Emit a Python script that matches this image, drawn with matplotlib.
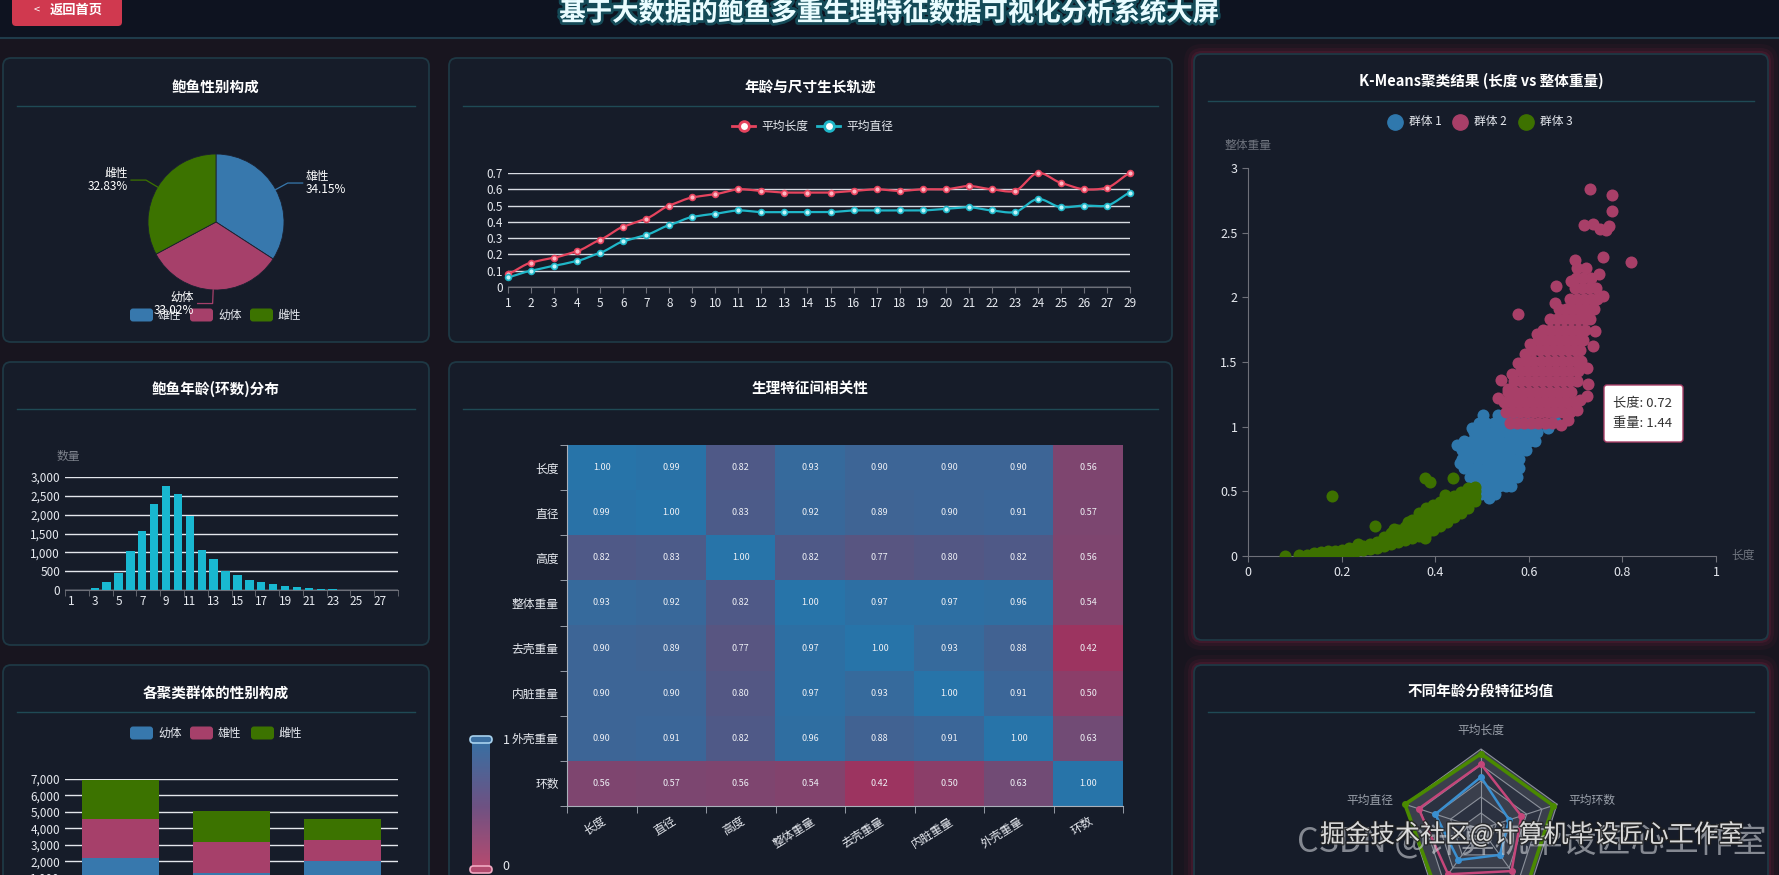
import numpy as np
import matplotlib
matplotlib.use("Agg")
import matplotlib.pyplot as plt
import matplotlib.patheffects as pe
from matplotlib.patches import FancyBboxPatch, Polygon
from matplotlib.colors import LinearSegmentedColormap

plt.rcParams['font.family'] = ['Noto Sans CJK SC', 'DejaVu Sans']

W, H = 1779, 875

# ---------------- 数据 ----------------
sex_names = ['雄性', '幼体', '雌性']
sex_pct = [34.15, 33.02, 32.83]

ages = [1, 2, 3, 4, 5, 6, 7, 8, 9, 10, 11, 12, 13, 14, 15, 16, 17, 18, 19, 20,
        21, 22, 23, 24, 25, 26, 27, 29]
avg_length = [0.08, 0.15, 0.18, 0.22, 0.29, 0.37, 0.42, 0.50, 0.55, 0.57, 0.60, 0.59,
              0.58, 0.58, 0.58, 0.59, 0.60, 0.59, 0.60, 0.60, 0.62, 0.60, 0.59, 0.70,
              0.64, 0.60, 0.61, 0.70]
avg_diameter = [0.06, 0.10, 0.13, 0.16, 0.21, 0.28, 0.32, 0.38, 0.43, 0.45, 0.47, 0.46,
                0.46, 0.46, 0.46, 0.47, 0.47, 0.47, 0.47, 0.48, 0.49, 0.47, 0.46, 0.54,
                0.49, 0.50, 0.50, 0.58]
ring_count = [0, 3, 50, 220, 460, 1030, 1560, 2270, 2760, 2540, 1960, 1060, 810, 500,
              400, 256, 220, 160, 115, 90, 45, 18, 25, 6, 4, 3, 2, 2]

cluster_names = ['群体 1', '群体 2', '群体 3']
stack_names = ['幼体', '雄性', '雌性']
stack_infant = [2170, 1290, 2000]
stack_male = [2420, 1880, 1275]
stack_female = [2370, 1860, 1315]

features = ['长度', '直径', '高度', '整体重量', '去壳重量', '内脏重量', '外壳重量', '环数']
corr = [
    [1.00, 0.99, 0.82, 0.93, 0.90, 0.90, 0.90, 0.56],
    [0.99, 1.00, 0.83, 0.92, 0.89, 0.90, 0.91, 0.57],
    [0.82, 0.83, 1.00, 0.82, 0.77, 0.80, 0.82, 0.56],
    [0.93, 0.92, 0.82, 1.00, 0.97, 0.97, 0.96, 0.54],
    [0.90, 0.89, 0.77, 0.97, 1.00, 0.93, 0.88, 0.42],
    [0.90, 0.90, 0.80, 0.97, 0.93, 1.00, 0.91, 0.50],
    [0.90, 0.91, 0.82, 0.96, 0.88, 0.91, 1.00, 0.63],
    [0.56, 0.57, 0.56, 0.54, 0.42, 0.50, 0.63, 1.00],
]

# K-Means 散点 (长度, 整体重量) —— 按行读取：重量 -> 长度列表
blue_rows = {
    0.48: [0.497, 0.512, 0.528],
    0.54: [0.492, 0.506, 0.521, 0.537, 0.552, 0.563],
    0.61: [0.474, 0.488, 0.503, 0.519, 0.534, 0.548, 0.562, 0.574],
    0.68: [0.462, 0.477, 0.492, 0.508, 0.523, 0.538, 0.553, 0.568, 0.579],
    0.75: [0.458, 0.473, 0.489, 0.504, 0.519, 0.534, 0.550, 0.565, 0.580],
    0.82: [0.457, 0.472, 0.487, 0.502, 0.518, 0.533, 0.548, 0.563, 0.578, 0.593],
    0.89: [0.462, 0.478, 0.494, 0.509, 0.524, 0.539, 0.555, 0.570, 0.585, 0.600, 0.614],
    0.96: [0.482, 0.497, 0.512, 0.527, 0.542, 0.558, 0.573, 0.588, 0.603, 0.617],
    1.03: [0.494, 0.509, 0.525, 0.540, 0.556, 0.571, 0.587, 0.602],
    1.09: [0.503, 0.534, 0.549, 0.565],
}
blue_extra = [(0.577, 1.24), (0.655, 1.04), (0.640, 0.99), (0.447, 0.86), (0.478, 0.99),
              (0.452, 0.72), (0.596, 0.90), (0.607, 0.93), (0.515, 0.45), (0.470, 0.79)]

pink_rows = {
    1.03: [0.560, 0.575, 0.590, 0.605, 0.620, 0.635, 0.650],
    1.11: [0.552, 0.567, 0.582, 0.597, 0.612, 0.627, 0.642, 0.657, 0.672, 0.688],
    1.19: [0.546, 0.561, 0.576, 0.591, 0.606, 0.621, 0.636, 0.651, 0.666, 0.681, 0.698],
    1.27: [0.556, 0.571, 0.586, 0.601, 0.616, 0.631, 0.646, 0.661, 0.676, 0.691],
    1.35: [0.569, 0.584, 0.599, 0.614, 0.629, 0.644, 0.659, 0.674, 0.689, 0.702],
    1.43: [0.583, 0.598, 0.613, 0.628, 0.643, 0.658, 0.673, 0.688, 0.705],
    1.51: [0.595, 0.610, 0.625, 0.640, 0.655, 0.670, 0.685, 0.700, 0.711],
    1.59: [0.608, 0.623, 0.638, 0.653, 0.668, 0.683, 0.698, 0.710],
    1.67: [0.620, 0.635, 0.650, 0.665, 0.680, 0.695, 0.710, 0.716],
    1.75: [0.631, 0.646, 0.661, 0.676, 0.691, 0.706, 0.721],
    1.83: [0.646, 0.661, 0.676, 0.691, 0.706, 0.721, 0.731],
    1.91: [0.664, 0.679, 0.694, 0.709, 0.724, 0.739],
    1.99: [0.688, 0.703, 0.718, 0.733, 0.745],
    2.07: [0.698, 0.713, 0.728, 0.743],
    2.15: [0.700, 0.716, 0.732],
    2.23: [0.704, 0.722],
}
pink_extra = [(0.730, 2.84), (0.778, 2.79), (0.778, 2.67), (0.719, 2.56), (0.738, 2.57),
              (0.752, 2.53), (0.766, 2.52), (0.772, 2.55), (0.819, 2.27), (0.698, 2.29),
              (0.758, 2.31), (0.749, 2.18), (0.659, 2.09), (0.577, 1.87), (0.758, 2.01),
              (0.741, 1.74), (0.724, 1.45), (0.724, 1.24), (0.726, 1.33), (0.704, 1.13),
              (0.683, 1.05), (0.541, 1.36), (0.577, 1.49), (0.535, 1.22), (0.556, 1.29),
              (0.668, 1.01), (0.592, 1.56), (0.603, 1.64), (0.655, 1.96), (0.737, 1.62),
              (0.716, 1.88), (0.690, 2.13), (0.618, 1.72), (0.710, 1.21), (0.565, 1.41)]

# 绿色群体按列读取：长度 -> 重量列表
green_cols = {
    0.080: [0.000], 0.110: [0.006], 0.125: [0.008], 0.140: [0.010, 0.025],
    0.155: [0.012, 0.030], 0.170: [0.015, 0.035], 0.185: [0.020, 0.042],
    0.200: [0.025, 0.050], 0.215: [0.030, 0.058], 0.230: [0.036, 0.068],
    0.245: [0.045, 0.080], 0.260: [0.055, 0.095], 0.275: [0.065, 0.110],
    0.290: [0.080, 0.125, 0.150], 0.305: [0.095, 0.140, 0.175],
    0.320: [0.110, 0.155, 0.200], 0.335: [0.125, 0.175, 0.225],
    0.350: [0.140, 0.190, 0.240, 0.280], 0.365: [0.155, 0.205, 0.255, 0.305, 0.335],
    0.380: [0.175, 0.225, 0.275, 0.325, 0.370], 0.395: [0.200, 0.245, 0.295, 0.345, 0.395],
    0.410: [0.230, 0.275, 0.320, 0.370, 0.415], 0.425: [0.265, 0.305, 0.350, 0.395, 0.440],
    0.440: [0.300, 0.340, 0.380, 0.420, 0.465], 0.455: [0.335, 0.375, 0.415, 0.455, 0.495],
    0.470: [0.375, 0.415, 0.455, 0.495, 0.525], 0.485: [0.425, 0.465, 0.505, 0.530],
}
green_extra = [(0.180, 0.465), (0.378, 0.600), (0.388, 0.570), (0.438, 0.600),
               (0.272, 0.230), (0.378, 0.140), (0.342, 0.262), (0.312, 0.205),
               (0.420, 0.475), (0.236, 0.095)]

radar_names = ['平均长度', '平均直径', '平均高度', '平均重量', '平均环数']
radar_young = [0.65, 0.60, 0.48, 0.40, 0.37]
radar_adult = [0.81, 0.82, 0.70, 0.65, 0.53]
radar_old = [0.94, 1.00, 0.95, 0.95, 0.95]

BLUE, PINK, GREEN = '#3778ad', '#a6406a', '#3c7300'
TXT = '#e6e9ef'

# ---------------- 画布 ----------------
fig = plt.figure(figsize=(W / 100, H / 100), dpi=100, facecolor='#18151f')
bg = fig.add_axes([0, 0, 1, 1], zorder=0)
bg.set_xlim(0, W); bg.set_ylim(H, 0); bg.axis('off')
fg = fig.add_axes([0, 0, 1, 1], zorder=20)
fg.set_xlim(0, W); fg.set_ylim(H, 0); fg.axis('off'); fg.patch.set_alpha(0)


def px_axes(x0, y0, x1, y1, z=5):
    ax = fig.add_axes([x0 / W, 1 - y1 / H, (x1 - x0) / W, (y1 - y0) / H], zorder=z)
    ax.patch.set_alpha(0)
    return ax


def panel(x0, y0, x1, y1, title, ty, sy, glow=False):
    if glow:
        for k, a in [(10, 0.10), (6, 0.18), (3, 0.30)]:
            bg.add_patch(FancyBboxPatch((x0 - k, y0 - k), x1 - x0 + 2 * k, y1 - y0 + 2 * k,
                                        boxstyle=f'round,pad=0,rounding_size={8 + k}',
                                        fc='#6a1f3c', ec='none', alpha=a))
    bg.add_patch(FancyBboxPatch((x0, y0), x1 - x0, y1 - y0,
                                boxstyle='round,pad=0,rounding_size=8',
                                fc='#161c29', ec='#1e3844', lw=1.3))
    bg.text((x0 + x1) / 2, ty, title, color='white', fontsize=10.5, fontweight='bold',
            ha='center', va='center')
    bg.plot([x0 + 14, x1 - 14], [sy, sy], color='#1f4a55', lw=1)


def legend_box(x, y, color, label):
    bg.add_patch(FancyBboxPatch((x, y - 6.5), 23, 13, boxstyle='round,pad=0,rounding_size=3',
                                fc=color, ec='none'))
    bg.text(x + 28, y, label, color=TXT, fontsize=8.5, va='center', ha='left')


def style_axis(ax):
    for s in ['top', 'right', 'left']:
        ax.spines[s].set_visible(False)
    ax.spines['bottom'].set_color('#6e7079')
    ax.tick_params(colors=TXT, labelsize=8.5)
    ax.tick_params(axis='y', length=0)
    ax.tick_params(axis='x', color='#6e7079', length=4)


# 背景 / 标题
bg.add_patch(plt.Rectangle((0, 0), W, 38, fc='#0e1320', ec='none'))
bg.plot([0, W], [38, 38], color='#1f3b4a', lw=1.5)
bg.add_patch(FancyBboxPatch((12, -8), 110, 34, boxstyle='round,pad=0,rounding_size=4',
                            fc='#d0394f', ec='none'))
bg.text(37, 10, '<', color='white', fontsize=8, ha='center', va='center')
bg.text(76, 10, '返回首页', color='white', fontsize=9.5, ha='center', va='center',
        fontweight='bold')
bg.text(889, 13, '基于大数据的鲍鱼多重生理特征数据可视化分析系统大屏', color='#eafcff',
        fontsize=19, fontweight='bold', ha='center', va='center',
        path_effects=[pe.withStroke(linewidth=4, foreground='#1d8f9c', alpha=0.45)])

panel(3, 58, 429, 342, '鲍鱼性别构成', 87, 106)
panel(449, 58, 1172, 342, '年龄与尺寸生长轨迹', 87, 106)
panel(3, 362, 429, 645, '鲍鱼年龄(环数)分布', 389, 409)
panel(449, 362, 1172, 890, '生理特征间相关性', 389, 409)
panel(3, 665, 429, 890, '各聚类群体的性别构成', 693, 712)
panel(1194, 54, 1768, 640, 'K-Means聚类结果 (长度 vs 整体重量)', 81, 101, glow=True)
panel(1194, 665, 1768, 890, '不同年龄分段特征均值', 692, 712, glow=True)

# ---------------- 饼图 ----------------
R = 68
axp = px_axes(66, 122, 366, 322)
axp.pie(sex_pct, colors=[BLUE, PINK, GREEN], startangle=90, counterclock=False,
        radius=1, wedgeprops=dict(ec='#1a2030', lw=0.6))
axp.set_xlim(-150 / R, 150 / R); axp.set_ylim(-100 / R, 100 / R)
cum = 0
for name, p, c in zip(sex_names, sex_pct, [BLUE, PINK, GREEN]):
    ang = np.deg2rad(90 - 3.6 * (cum + p / 2))
    cum += p
    x1, y1 = np.cos(ang), np.sin(ang)
    x2, y2 = 1.2 * x1, 1.2 * y1
    sgn = 1 if x1 > 0 else -1
    x3 = x2 + sgn * 0.22
    axp.plot([x1, x2, x3], [y1, y2, y2], color=c, lw=0.9, clip_on=False)
    axp.text(x3 + sgn * 0.05, y2, f'{name}\n{p:.2f}%', color='white', fontsize=8.5,
             ha='left' if sgn > 0 else 'right', va='center', linespacing=1.0)
for x, name, c in zip([130, 190, 250], sex_names, [BLUE, PINK, GREEN]):
    legend_box(x, 315, c, name)

# ---------------- 折线图 ----------------
RED_L, CYAN_L = '#e6445e', '#1fb6c8'


def smooth_xy(x, y, n=12):
    x = np.asarray(x, float); y = np.asarray(y, float)
    m = np.gradient(y, x) * 0.7
    xs, ys = [], []
    t = np.linspace(0, 1, n, endpoint=False)
    for i in range(len(x) - 1):
        h = x[i + 1] - x[i]
        ys.append((2 * t**3 - 3 * t**2 + 1) * y[i] + (t**3 - 2 * t**2 + t) * h * m[i]
                  + (-2 * t**3 + 3 * t**2) * y[i + 1] + (t**3 - t**2) * h * m[i + 1])
        xs.append(x[i] + t * h)
    xs.append([x[-1]]); ys.append([y[-1]])
    return np.concatenate(xs), np.concatenate(ys)


axl = px_axes(508, 173, 1130, 287)
idx = np.arange(len(ages))
for vals, col, mfc in [(avg_length, RED_L, '#ffb6c2'), (avg_diameter, CYAN_L, '#bff5fa')]:
    sx, sy = smooth_xy(idx, vals)
    axl.plot(sx, sy, color=col, lw=1.6, clip_on=False, zorder=3)
    axl.plot(idx, vals, 'o', ms=4.2, mfc=mfc, mec=col, mew=1.2, clip_on=False, zorder=4)
axl.set_xlim(0, len(ages) - 1); axl.set_ylim(0, 0.7)
axl.set_xticks(idx); axl.set_xticklabels([str(a) for a in ages])
axl.set_yticks(np.arange(0, 0.71, 0.1))
axl.set_yticklabels(['0', '0.1', '0.2', '0.3', '0.4', '0.5', '0.6', '0.7'])
axl.grid(axis='y', color='#d8dce3', lw=1)
axl.set_axisbelow(True)
style_axis(axl)
for x0, col, mfc, name in [(732, RED_L, 'white', '平均长度'), (817, CYAN_L, 'white', '平均直径')]:
    bg.plot([x0, x0 + 23], [126, 126], color=col, lw=2)
    bg.plot([x0 + 11.5], [126], 'o', ms=7, mfc=mfc, mec=col, mew=2)
    bg.text(x0 + 29, 126, name, color=TXT, fontsize=8.5, va='center')

# ---------------- 年龄分布柱状图 ----------------
axh = px_axes(65, 477, 398, 590)
axh.bar(np.arange(len(ages)), ring_count, width=0.7, color='#19b8d1', zorder=3)
axh.set_xlim(-0.5, len(ages) - 0.5); axh.set_ylim(0, 3000)
axh.set_xticks(np.arange(0, len(ages), 2))
axh.set_xticklabels([str(a) for a in ages[::2]])
axh.set_xticks(np.arange(-0.5, len(ages), 2), minor=True)
axh.set_yticks(np.arange(0, 3001, 500))
axh.set_yticklabels([f'{v:,}' for v in range(0, 3001, 500)])
axh.grid(axis='y', color='#e3e6ec', lw=1)
style_axis(axh)
axh.tick_params(axis='x', which='major', length=0)
axh.tick_params(axis='x', which='minor', color='#6e7079', length=4)
bg.text(68, 456, '数量', color='#7d828c', fontsize=8.5, ha='center', va='center')

# ---------------- 堆叠柱状图 ----------------
axs = px_axes(65, 779, 398, 894)
cx = np.arange(len(cluster_names))
axs.bar(cx, stack_infant, width=0.69, color=BLUE, zorder=3)
axs.bar(cx, stack_male, width=0.69, bottom=stack_infant, color=PINK, zorder=3)
axs.bar(cx, stack_female, width=0.69,
        bottom=np.add(stack_infant, stack_male), color=GREEN, zorder=3)
axs.set_xlim(-0.5, 2.5); axs.set_ylim(0, 7000)
axs.set_xticks(cx); axs.set_xticklabels([])
axs.set_yticks(np.arange(0, 7001, 1000))
axs.set_yticklabels([f'{v:,}' for v in range(0, 7001, 1000)])
axs.grid(axis='y', color='#e3e6ec', lw=1)
style_axis(axs)
for x, name, c in zip([130, 190, 251], stack_names, [BLUE, PINK, GREEN]):
    legend_box(x, 733, c, name)

# ---------------- 相关性热力图 ----------------
heat_cmap = LinearSegmentedColormap.from_list(
    'heat', [(0, '#a0325f'), (0.27, '#7e4670'), (0.68, '#525885'), (1, '#2774a9')])
axc = px_axes(567, 445, 1123, 806)
axc.imshow(np.array(corr), cmap=heat_cmap, vmin=0.4, vmax=1.0, aspect='auto')
for i in range(len(features)):
    for j in range(len(features)):
        axc.text(j, i, f'{corr[i][j]:.2f}', color='#eef0f5', fontsize=6.5,
                 ha='center', va='center')
n = len(features)
axc.set_xticks(range(n)); axc.set_yticks(range(n))
axc.set_xticklabels(features, rotation=32, ha='right', va='top', rotation_mode='anchor')
axc.set_yticklabels(features)
axc.set_xticks(np.arange(-0.5, n), minor=True); axc.set_yticks(np.arange(-0.5, n), minor=True)
axc.tick_params(which='major', length=0, colors=TXT, labelsize=8.5, pad=6)
axc.tick_params(which='minor', length=5, color='#aab0ba')
for s in ['top', 'right']:
    axc.spines[s].set_visible(False)
for s in ['left', 'bottom']:
    axc.spines[s].set_color('#aab0ba'); axc.spines[s].set_linewidth(0.8)

vm_cmap = LinearSegmentedColormap.from_list('vm', ['#b84a6f', '#6e5283', '#3a6fa2'])
axv = px_axes(472, 743, 490, 869)
axv.imshow(np.linspace(0, 1, 100).reshape(-1, 1), cmap=vm_cmap, aspect='auto',
           origin='lower', extent=(0, 1, 0, 1))
axv.axis('off')
fg.add_patch(FancyBboxPatch((470, 736), 22, 7, boxstyle='round,pad=0,rounding_size=3.5',
                            fc='#3c70a2', ec='#a8d2ee', lw=1.2))
fg.add_patch(FancyBboxPatch((470, 866), 22, 7, boxstyle='round,pad=0,rounding_size=3.5',
                            fc='#b24a6e', ec='#f0aac2', lw=1.2))
fg.text(506, 740, '1', color=TXT, fontsize=9, ha='center', va='center')
fg.text(506, 866, '0', color=TXT, fontsize=9, ha='center', va='center')

# ---------------- K-Means 散点 ----------------
def rows_to_xy(rows, extra):
    pts = [(l, w) for w, ls in rows.items() for l in ls] + list(extra)
    return np.array(pts).T


def cols_to_xy(cols, extra):
    pts = [(l, w) for l, ws in cols.items() for w in ws] + list(extra)
    return np.array(pts).T


axk = px_axes(1248, 168, 1716, 556)
bx, by = rows_to_xy(blue_rows, blue_extra)
px_, py_ = rows_to_xy(pink_rows, pink_extra)
gx, gy = cols_to_xy(green_cols, green_extra)
axk.scatter(bx, by, s=75, color='#2f78ad', lw=0, zorder=3)
axk.scatter(px_, py_, s=75, color='#a83f68', lw=0, zorder=4)
axk.scatter(gx, gy, s=75, color='#3d7100', lw=0, zorder=5)
axk.set_xlim(0, 1); axk.set_ylim(0, 3)
axk.set_xticks(np.arange(0, 1.01, 0.2))
axk.set_xticklabels(['0', '0.2', '0.4', '0.6', '0.8', '1'])
axk.set_yticks(np.arange(0, 3.01, 0.5))
axk.set_yticklabels(['0', '0.5', '1', '1.5', '2', '2.5', '3'])
for s in ['top', 'right']:
    axk.spines[s].set_visible(False)
for s in ['left', 'bottom']:
    axk.spines[s].set_color('#6e7079')
axk.tick_params(colors=TXT, labelsize=9, color='#6e7079', length=4)
bg.text(1248, 146, '整体重量', color='#6f747e', fontsize=8.5, ha='center', va='center')
bg.text(1743, 555, '长度', color='#6f747e', fontsize=8.5, ha='center', va='center')
for x, name, c in zip([1395, 1460, 1526], cluster_names, ['#2f78ad', '#a83f68', '#3d7100']):
    bg.plot([x], [122], 'o', ms=11, color=c)
    bg.text(x + 14, 122, name, color=TXT, fontsize=8.5, va='center')
fg.add_patch(FancyBboxPatch((1604, 385), 79, 57, boxstyle='round,pad=0,rounding_size=3',
                            fc='white', ec='#a83f68', lw=1))
fg.text(1613, 404, '长度: 0.72', color='#333333', fontsize=9.5, va='center')
fg.text(1613, 424, '重量: 1.44', color='#333333', fontsize=9.5, va='center')

# ---------------- 雷达图 ----------------
axr = px_axes(1381, 729, 1581, 929)
axr.set_xlim(-1.25, 1.25); axr.set_ylim(-1.25, 1.25); axr.axis('off')
th = np.deg2rad(90 + 72 * np.arange(5))
for k in range(5, 0, -1):
    r = k / 5
    axr.add_patch(Polygon(np.c_[r * np.cos(th), r * np.sin(th)], closed=True,
                          fc='#3a3f4c' if k % 2 else '#2b3140', ec='#8c919b', lw=0.8))
for t in th:
    axr.plot([0, np.cos(t)], [0, np.sin(t)], color='#8c919b', lw=0.8)
for vals, col, lw in [(radar_old, '#4a8a00', 2.6), (radar_adult, '#c4467a', 1.8),
                      (radar_young, '#3a8fd0', 1.8)]:
    v = np.array(vals)
    xs, ys = v * np.cos(th), v * np.sin(th)
    axr.plot(np.r_[xs, xs[0]], np.r_[ys, ys[0]], color=col, lw=lw)
    axr.plot(xs, ys, 'o', ms=4, color=col)
for name, t in zip(radar_names, th):
    c, s_ = np.cos(t), np.sin(t)
    if s_ < -0.5:
        continue  # 下方两个指标名称位于画面之外
    ha = 'center' if abs(c) < 0.1 else ('left' if c > 0 else 'right')
    va = 'bottom' if abs(c) < 0.1 else 'center'
    axr.text(1.15 * c, 1.15 * s_, name, color='#9aa0aa', fontsize=8.5, ha=ha, va=va)

# 水印
fg.text(1297, 843, 'CSDN @计算机毕设匠心工作室', color='#cfd2d8', alpha=0.6, fontsize=24.5,
        ha='left', va='center')
fg.text(1320, 835, '掘金技术社区@计算机毕设匠心工作室', color='white', alpha=0.8, fontsize=18,
        ha='left', va='center',
        path_effects=[pe.withStroke(linewidth=2, foreground='#222222')])

fig.savefig('out.png', dpi=100, facecolor=fig.get_facecolor())
